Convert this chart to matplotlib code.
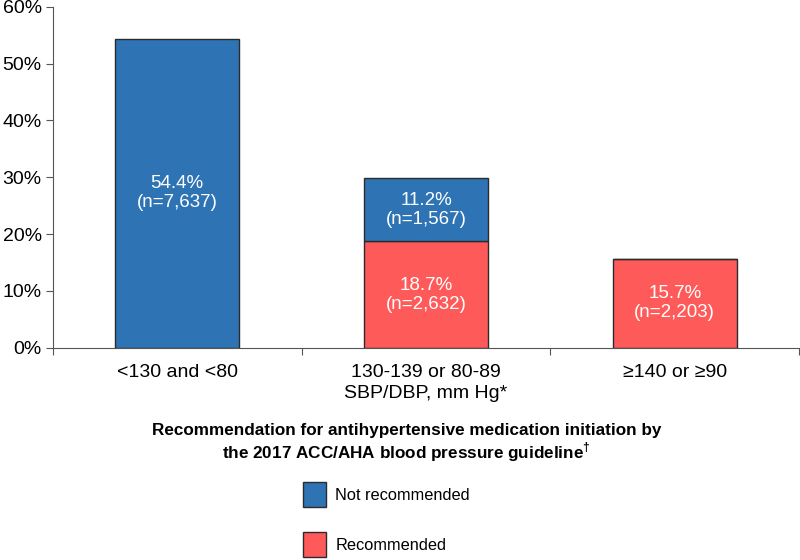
import matplotlib.pyplot as plt
from matplotlib.patches import Patch
from matplotlib.ticker import PercentFormatter

categories = ['<130 and <80', '130-139 or 80-89\nSBP/DBP, mm Hg*', '\u2265140 or \u226590']
not_recommended = [54.4, 11.2, 0.0]
not_recommended_n = ['7,637', '1,567', '']
recommended = [0.0, 18.7, 15.7]
recommended_n = ['', '2,632', '2,203']

blue = '#2E74B5'
red = '#FF5A5A'
edge = '#2b2b2b'

plt.rcParams['font.family'] = ['Liberation Sans', 'DejaVu Sans']
plt.rcParams['mathtext.fontset'] = 'custom'
plt.rcParams['mathtext.rm'] = 'Liberation Sans:bold'
plt.rcParams['mathtext.bf'] = 'Liberation Sans:bold'

fig = plt.figure(figsize=(8, 5.6), dpi=100)
ax = fig.add_axes([0.066, 0.379, 0.933, 0.609])

x = range(len(categories))
ax.bar(x, recommended, width=0.5, color=red, edgecolor=edge, linewidth=1)
ax.bar(x, not_recommended, width=0.5, bottom=recommended, color=blue,
       edgecolor=edge, linewidth=1)

for i in x:
    if recommended[i] > 0:
        ax.text(i, recommended[i] / 2, f'{recommended[i]}%\n(n={recommended_n[i]})',
                ha='center', va='center', color='white', fontsize=13.5, linespacing=1.15)
    if not_recommended[i] > 0:
        ax.text(i, recommended[i] + not_recommended[i] / 2,
                f'{not_recommended[i]}%\n(n={not_recommended_n[i]})',
                ha='center', va='center', color='white', fontsize=13.5, linespacing=1.15)

ax.set_xlim(-0.5, 2.5)
ax.set_ylim(0, 60)
ax.set_yticks(range(0, 61, 10))
ax.yaxis.set_major_formatter(PercentFormatter(decimals=0))
ax.set_xticks([-0.5, 0.5, 1.5, 2.5])
ax.set_xticklabels([])
ax.set_xticks(list(x), minor=True)
ax.set_xticklabels(categories, minor=True, fontsize=14, linespacing=1.25)
ax.tick_params(axis='x', which='minor', length=0, pad=12)
ax.tick_params(axis='x', which='major', length=5, color='#555555')
ax.tick_params(axis='y', labelsize=14, length=5, color='#555555', pad=3)
for s in ['top', 'right']:
    ax.spines[s].set_visible(False)
ax.spines['left'].set_color('#555555')
ax.spines['bottom'].set_color('#555555')

fig.text(0.508, 0.208, 'Recommendation for antihypertensive medication initiation by\n'
         'the 2017 ACC/AHA blood pressure guideline$^{\\dagger}$',
         ha='center', va='center', fontsize=12.3, fontweight='bold', linespacing=1.12)

handles = [Patch(facecolor=blue, edgecolor=edge, label='Not recommended'),
           Patch(facecolor=red, edgecolor=edge, label='Recommended')]
fig.legend(handles=handles, loc='upper left', bbox_to_anchor=(0.379, 0.139),
           frameon=False, fontsize=11.8, handlelength=1.4, handleheight=1.95,
           labelspacing=1.55, handletextpad=0.55, borderaxespad=0, borderpad=0)

fig.savefig('out.png', dpi=100)
